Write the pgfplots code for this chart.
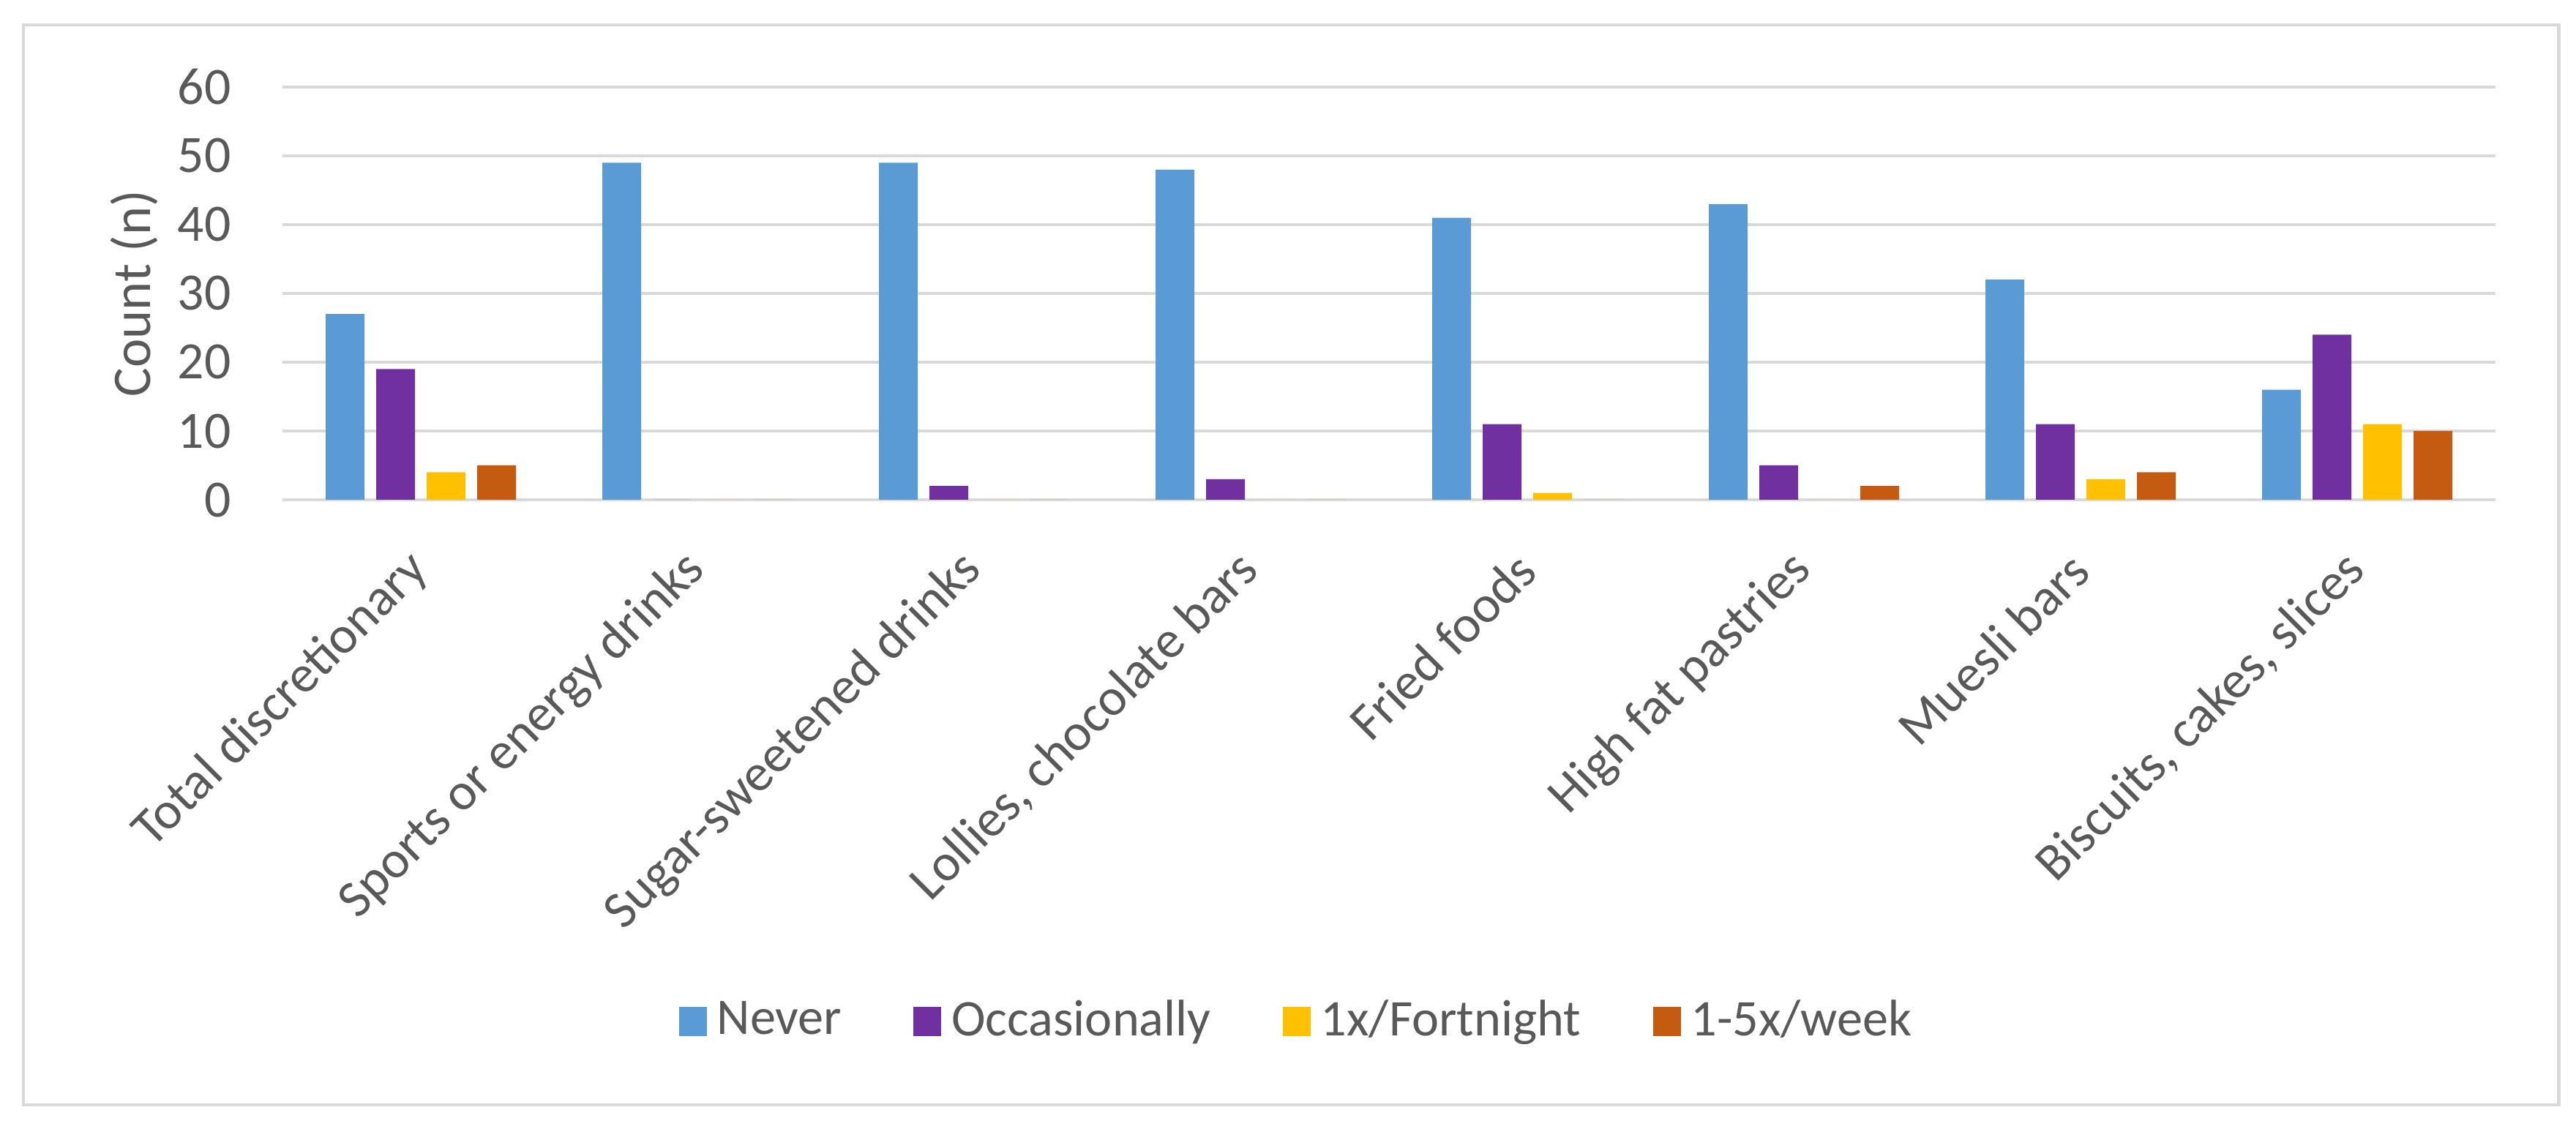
\documentclass[border=0pt]{standalone}
\usepackage{fontspec}
\setmainfont{Carlito}
\usepackage{pgfplots}
\pgfplotsset{compat=1.18}
\usetikzlibrary{calc}
\definecolor{cnever}{HTML}{5B9BD5}
\definecolor{cocc}{HTML}{7030A0}
\definecolor{cfort}{HTML}{FFC000}
\definecolor{cweek}{HTML}{C55A11}
\definecolor{gridgray}{HTML}{D9D9D9}
\definecolor{textgray}{HTML}{595959}
\begin{document}
\begin{tikzpicture}
\begin{axis}[name=ax, scale only axis, width=15.12cm, height=2.82cm,
  ybar=0.08cm, bar width=0.265cm,
  xmin=-0.5, xmax=7.5, ymin=0, ymax=60,
  xtick={0,...,7},
  xticklabels={Total discretionary, Sports or energy drinks, Sugar-sweetened drinks, {Lollies, chocolate bars}, Fried foods, High fat pastries, Muesli bars, {Biscuits, cakes, slices}},
  ytick={0,10,...,60},
  ymajorgrids, major grid style={draw=gridgray, line width=0.7pt},
  axis line style={draw=none}, major tick length=0pt,
  tick label style={font=\fontsize{10.2}{12}\selectfont, text=textgray},
  /pgf/number format/assume math mode=true,
  xticklabel style={rotate=45, anchor=east, inner sep=0pt},
  xticklabel shift=0.42cm,
  yticklabel style={anchor=east, inner sep=0pt},
  yticklabel shift=0.345cm,
  ylabel={Count (n)},
  ylabel style={at={(axis description cs:-0.0671,0.5)}, anchor=center, font=\fontsize{10.6}{12}\selectfont, text=textgray},
  legend style={at={(axis description cs:0.46,-1.264)}, anchor=center, draw=none, font=\fontsize{10}{12}\selectfont, text=textgray, legend columns=4, /tikz/every even column/.append style={column sep=0.42cm}},
  legend image code/.code={\fill[#1] (0cm,-0.1cm) rectangle (0.19cm,0.1cm);},
]
\addplot[fill=cnever, draw=none] coordinates {(0,27) (1,49) (2,49) (3,48) (4,41) (5,43) (6,32) (7,16)};
\addplot[fill=cocc, draw=none] coordinates {(0,19) (1,0) (2,2) (3,3) (4,11) (5,5) (6,11) (7,24)};
\addplot[fill=cfort, draw=none] coordinates {(0,4) (1,0) (2,0) (3,0) (4,1) (5,0) (6,3) (7,11)};
\addplot[fill=cweek, draw=none] coordinates {(0,5) (1,0) (2,0) (3,0) (4,0) (5,2) (6,4) (7,10)};
\legend{Never, Occasionally, 1x/Fortnight, 1-5x/week}
\end{axis}
\draw[gridgray, line width=0.7pt] ($(ax.south west)+(-1.77cm,-4.135cm)$) rectangle ($(ax.north east)+(0.43cm,0.425cm)$);
\pgfresetboundingbox
\path[use as bounding box] ($(ax.south west)+(-1.93cm,-4.245cm)$) rectangle ($(ax.north east)+(0.55cm,0.595cm)$);
\end{tikzpicture}
\end{document}
